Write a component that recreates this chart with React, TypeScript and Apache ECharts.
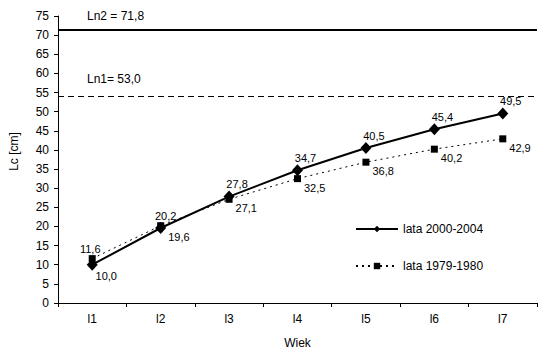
import React, { useEffect, useRef } from "react";
import * as echarts from "echarts";

const categories = ["l1", "l2", "l3", "l4", "l5", "l6", "l7"];
const seriesNames = ["lata 2000-2004", "lata 1979-1980"];
const values2000 = [10.0, 19.6, 27.8, 34.7, 40.5, 45.4, 49.5];
const values1979 = [11.6, 20.2, 27.1, 32.5, 36.8, 40.2, 42.9];
const refLineValues = [71.4, 54.0];
const refLineLabels = ["Ln2 = 71,8", "Ln1= 53,0"];
const yTicks = { min: 0, max: 75, interval: 5 };

const FONT = "Liberation Sans, Arial, sans-serif";
const fmt = (v: number) => v.toFixed(1).replace(".", ",");

export default function App() {
  const ref = useRef<HTMLDivElement>(null);
  useEffect(() => {
    if (!ref.current) return;
    const chart = echarts.init(ref.current, null, { renderer: "svg" });

    const labelBase = {
      show: true,
      color: "#000",
      fontFamily: FONT,
      fontSize: 11,
      formatter: (p: any) => fmt(p.value),
    };

    const data2000 = values2000.map((v, i) => {
      let label: any;
      if (i === 0) label = { position: "bottom", distance: 0, offset: [14, 0] };
      else if (i === 1) label = { position: "right", distance: 2, offset: [0, 9] };
      else label = { position: "top", distance: 1, offset: [8, 0] };
      return { value: v, label };
    });
    const data1979 = values1979.map((v, i) => {
      let label: any;
      if (i === 0) label = { position: "top", distance: 1, offset: [-2, 0] };
      else if (i === 1) label = { position: "top", distance: 1, offset: [5, 0] };
      else label = { position: "right", distance: 3, offset: [0, 9] };
      return { value: v, label };
    });

    chart.setOption({
      animation: false,
      backgroundColor: "#fff",
      textStyle: { fontFamily: FONT, color: "#000" },
      grid: { left: 52, right: 9, top: 16, bottom: 53, containLabel: false },
      legend: {
        data: seriesNames,
        orient: "vertical",
        left: 355,
        top: 223,
        padding: 0,
        itemWidth: 42,
        itemHeight: 8,
        itemGap: 25,
        textStyle: { fontFamily: FONT, fontSize: 12, color: "#000" },
      },
      xAxis: {
        type: "category",
        data: categories,
        boundaryGap: true,
        name: "Wiek",
        nameLocation: "middle",
        nameGap: 34,
        nameTextStyle: { fontFamily: FONT, fontSize: 12, color: "#000" },
        axisLine: { lineStyle: { color: "#000", width: 1 } },
        axisTick: { show: true, length: 4, lineStyle: { color: "#000" } },
        axisLabel: { margin: 10, fontFamily: FONT, fontSize: 12, color: "#000" },
        splitLine: { show: false },
      },
      yAxis: {
        type: "value",
        min: yTicks.min,
        max: yTicks.max,
        interval: yTicks.interval,
        name: "Lc [cm]",
        nameLocation: "middle",
        nameGap: 38,
        nameTextStyle: { fontFamily: FONT, fontSize: 12, color: "#000", padding: [0, 0, 0, 16] },
        axisLine: { show: true, lineStyle: { color: "#000", width: 1 } },
        axisTick: { show: true, length: 4, lineStyle: { color: "#000" } },
        axisLabel: { margin: 9, fontFamily: FONT, fontSize: 12, color: "#000" },
        splitLine: { show: false },
      },
      series: [
        {
          name: seriesNames[1],
          type: "line",
          data: data1979,
          symbol: "rect",
          symbolSize: 7,
          itemStyle: { color: "#000" },
          lineStyle: { color: "#000", width: 1, type: [2, 4] },
          label: labelBase,
          z: 2,
        },
        {
          name: seriesNames[0],
          type: "line",
          data: data2000,
          symbol: "diamond",
          symbolSize: [11, 12],
          itemStyle: { color: "#000" },
          lineStyle: { color: "#000", width: 2 },
          label: labelBase,
          z: 3,
          markLine: {
            silent: true,
            symbol: "none",
            animation: false,
            label: { show: false },
            data: [
              {
                yAxis: refLineValues[0],
                lineStyle: { color: "#000", width: 2, type: "solid" },
              },
              {
                yAxis: refLineValues[1],
                lineStyle: { color: "#000", width: 1, type: [6, 4] },
              },
            ],
          },
        },
      ],
    });

    const labelGaps = [13, 16];
    const texts = refLineValues.map((v, i) => {
      const py = chart.convertToPixel({ yAxisIndex: 0 }, v) as number;
      return {
        type: "text",
        left: 87,
        top: py - labelGaps[i] - 7,
        silent: true,
        style: {
          text: refLineLabels[i],
          fill: "#000",
          font: `12px ${FONT}`,
        },
      };
    });
    chart.setOption({ graphic: texts });

    return () => chart.dispose();
  }, []);

  return (
    <div
      ref={ref}
      style={{ position: "fixed", left: 0, top: 0, width: 546, height: 356, background: "#fff" }}
    />
  );
}
